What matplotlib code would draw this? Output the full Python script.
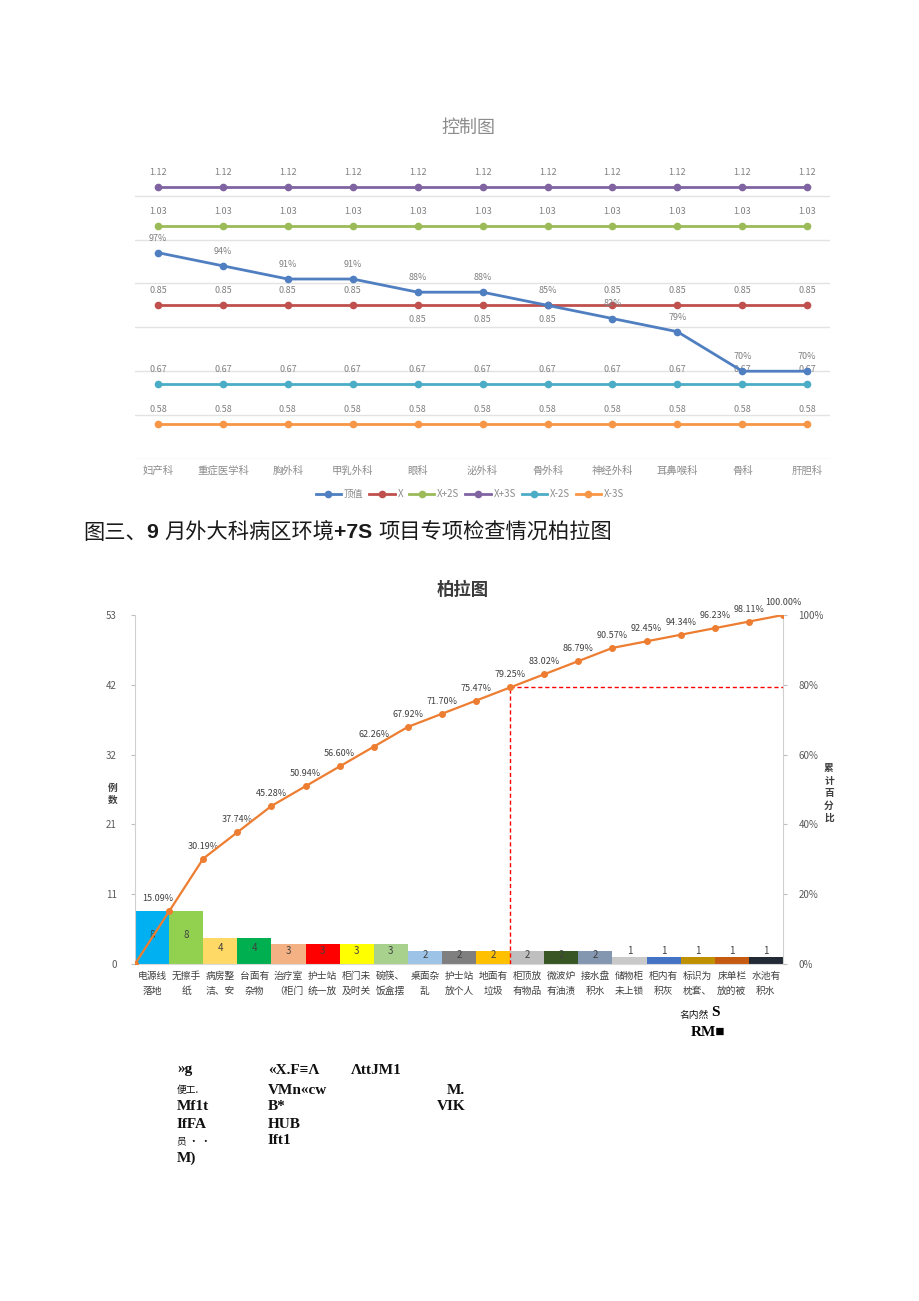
import numpy as np
import matplotlib
matplotlib.use("Agg")
import matplotlib.pyplot as plt
from matplotlib.ticker import FuncFormatter

plt.rcParams['font.family'] = ['Noto Sans CJK SC', 'DejaVu Sans']

# ---- 控制图 数据 ----
depts = ['妇产科', '重症医学科', '胸外科', '甲乳外科', '眼科', '泌外科',
         '骨外科', '神经外科', '耳鼻喉科', '骨科', '肝胆科']
actual = [0.97, 0.94, 0.91, 0.91, 0.88, 0.88, 0.85, 0.82, 0.79, 0.70, 0.70]
x_mean = 0.85
x_p2s = 1.03
x_p3s = 1.12
x_m2s = 0.67
x_m3s = 0.58

# ---- 柏拉图 数据 ----
items = ['电源线\n落地', '无擦手\n纸', '病房整\n洁、安', '台面有\n杂物', '治疗室\n（柜门',
         '护士站\n统一放', '柜门未\n及时关', '碗筷、\n饭盒摆', '桌面杂\n乱', '护士站\n放个人',
         '地面有\n垃圾', '柜顶放\n有物品', '微波炉\n有油渍', '接水盘\n积水', '储物柜\n未上锁',
         '柜内有\n积灰', '标识为\n枕套、', '床单栏\n放的被', '水池有\n积水']
counts = [8, 8, 4, 4, 3, 3, 3, 3, 2, 2, 2, 2, 2, 2, 1, 1, 1, 1, 1]
bar_colors = ['#00B0F0', '#92D050', '#FFD966', '#00B050', '#F4B183', '#FF0000', '#FFFF00',
              '#A9D18E', '#9DC3E6', '#7F7F7F', '#FFC000', '#BFBFBF', '#375623', '#8497B0',
              '#C9C9C9', '#4472C4', '#BF9000', '#C55A11', '#222A35']
cut_idx = 11

fig = plt.figure(figsize=(9.2, 13.01), dpi=100)
W, H = 920, 1301


def fx(px):
    return px / W


def fy(py):
    return 1 - py / H


# ================= 控制图 =================
ax1 = fig.add_axes([fx(135), fy(459), fx(695), 298.5 / H])
xs = np.arange(len(depts))
series = [
    ('顶值', actual, '#4F7FC0'),
    ('X', [x_mean] * len(depts), '#C0504D'),
    ('X+2S', [x_p2s] * len(depts), '#9BBB59'),
    ('X+3S', [x_p3s] * len(depts), '#8064A2'),
    ('X-2S', [x_m2s] * len(depts), '#4BACC6'),
    ('X-3S', [x_m3s] * len(depts), '#F79646'),
]
for k, (name, vals, col) in enumerate(series):
    z = 5 if k == 0 else 3
    ax1.plot(xs, vals, color=col, lw=2, marker='o', ms=4.5, label=name, zorder=z)

lab_c = '#808080'
for i, v in enumerate(actual):
    ax1.annotate(f'{round(v * 100)}%', (i, v), xytext=(0, 10.5), textcoords='offset points',
                 ha='center', va='center', fontsize=6.5, color=lab_c, zorder=6)
for vals, below in [([x_p3s] * 11, []), ([x_p2s] * 11, []), ([x_mean] * 11, [4, 5, 6]),
                    ([x_m2s] * 11, []), ([x_m3s] * 11, [])]:
    for i, v in enumerate(vals):
        off = -10 if i in below else 10.5
        ax1.annotate(f'{v:.2f}', (i, v), xytext=(0, off), textcoords='offset points',
                     ha='center', va='center', fontsize=6.5, color=lab_c, zorder=4)

ax1.set_xlim(-0.354, 10.35)
ax1.set_ylim(0.5, 1.18)
ax1.set_yticks(np.arange(0.5, 1.15, 0.1))
ax1.yaxis.grid(True, color='#E3E3E3', lw=1)
ax1.set_axisbelow(True)
ax1.tick_params(axis='y', length=0, labelleft=False)
ax1.set_xticks(xs)
ax1.set_xticklabels(depts, fontsize=7.5, color='#8C8C8C')
ax1.tick_params(axis='x', length=0, pad=5)
for s in ax1.spines.values():
    s.set_visible(False)
ax1.legend(loc='center', bbox_to_anchor=((470 - 135) / 695, -0.118), ncol=6, frameon=False,
           fontsize=7, handlelength=2.6, columnspacing=0.6, handletextpad=0.3,
           labelcolor='#8C8C8C')
fig.text(fx(468), fy(128), '控制图', ha='center', va='center', fontsize=13, color='#8C8C8C')

# ================= 标题文字 =================
renderer = fig.canvas.get_renderer()
pieces = [('图三、', 'normal', ['Noto Sans CJK SC']),
          ('9 ', 'bold', ['Liberation Sans']),
          ('月外大科病区环境', 'normal', ['Noto Sans CJK SC']),
          ('+7S ', 'bold', ['Liberation Sans']),
          ('项目专项检查情况柏拉图', 'normal', ['Noto Sans CJK SC'])]
cx = fx(83)
for txt, wt, fam in pieces:
    t = fig.text(cx, fy(533), txt, fontsize=15.3, weight=wt, family=fam + ['DejaVu Sans'],
                 ha='left', va='center', color='#1A1A1A')
    bb = t.get_window_extent(renderer)
    cx += bb.width / W

# ================= 柏拉图 =================
ax2 = fig.add_axes([fx(135), fy(964), fx(648), 349 / H])
pos = np.arange(len(counts)) + 0.5
total = sum(counts)
ax2.bar(pos, counts, width=1.0, color=bar_colors, zorder=2)
for p, v in zip(pos, counts):
    ly = v / 2 + 0.4 if v > 1 else 2.0
    ax2.text(p, ly, str(v), ha='center', va='center', fontsize=7, color='#404040', zorder=3)
ax2.set_xlim(0, len(counts))
ax2.set_ylim(0, total)
lt = [total * k / 5 for k in range(6)]
ax2.set_yticks(lt)
ax2.set_yticklabels([str(round(t)) for t in lt], fontsize=7, color='#595959')
ax2.set_xticks(pos)
ax2.set_xticklabels(items, fontsize=7, color='#404040', linespacing=1.65)
ax2.tick_params(axis='x', length=0, pad=5)
ax2.tick_params(axis='y', length=3, color='#BFBFBF', pad=10)
ax2.spines['top'].set_visible(False)
ax2.spines['right'].set_visible(False)
ax2.spines['left'].set_color('#D0D0D0')
ax2.spines['bottom'].set_color('#D9D9D9')

ax3 = ax2.twinx()
cum = np.cumsum(counts) / total
cx_pts = np.arange(len(counts) + 1)
cy_pts = np.concatenate([[0], cum])
ax3.plot(cx_pts, cy_pts, color='#ED7D31', lw=1.6, marker='o', ms=4, zorder=5)
for i, v in enumerate(cum):
    dx = -8 if i == 0 else 0
    ax3.annotate(f'{v * 100:.2f}%', (i + 1, v), xytext=(dx, 9), textcoords='offset points',
                 ha='center', va='center', fontsize=6.5, color='#404040')
ax3.plot([cut_idx, cut_idx], [0, cum[cut_idx - 1]], color='#FF0000', lw=1, ls=(0, (3, 2)), zorder=4)
ax3.plot([cut_idx, len(counts)], [cum[cut_idx - 1]] * 2, color='#FF0000', lw=1, ls=(0, (3, 2)), zorder=4)
ax3.set_ylim(0, 1)
ax3.set_yticks(np.linspace(0, 1, 6))
ax3.yaxis.set_major_formatter(FuncFormatter(lambda v, p: f'{v * 100:.0f}%'))
ax3.tick_params(axis='y', labelsize=7, labelcolor='#595959', length=3, color='#BFBFBF', pad=8)
ax3.spines['top'].set_visible(False)
ax3.spines['left'].set_visible(False)
ax3.spines['bottom'].set_visible(False)
ax3.spines['right'].set_color('#D0D0D0')

fig.text(fx(463), fy(590), '柏拉图', ha='center', va='center', fontsize=12.5, weight='bold',
         color='#3A3A3A')
fig.text(fx(113), fy(794), '例\n数', ha='center', va='center', fontsize=7, weight='bold',
         color='#404040', linespacing=1.3)
fig.text(fx(829), fy(793), '累\n计\n百\n分\n比', ha='center', va='center', fontsize=7,
         weight='bold', color='#404040', linespacing=1.3)

# ================= 下方杂乱文字 =================
serif = ['Liberation Serif', 'DejaVu Serif', 'DejaVu Sans', 'Noto Sans CJK SC']
cjk = ['Noto Sans CJK SC', 'DejaVu Sans']
fig.text(fx(679), fy(1015), '名内然', fontsize=7, family=cjk, va='center', color='#111111')
fig.text(fx(711), fy(1013), 'S', fontsize=11, family=serif, weight='bold', va='center')
fig.text(fx(691), fy(1033), 'RM■', fontsize=11, family=serif, weight='bold', va='center')

junk = [
    (177, 1070, '»g', serif, 11),
    (268, 1070, '«X.F≡Λ', serif, 11),
    (351, 1070, 'ΛttJM1', serif, 11),
    (177, 1090, '便工.', cjk, 7),
    (268, 1090, 'VMn«cw', serif, 11),
    (447, 1090, 'M.', serif, 11),
    (177, 1107, 'Mf1t', serif, 11),
    (268, 1107, 'B*', serif, 11),
    (437, 1107, 'VIK', serif, 11),
    (177, 1125, 'IfFA', serif, 11),
    (268, 1125, 'HUB', serif, 11),
    (177, 1141, '员 · ·', cjk, 7),
    (268, 1141, 'Ift1', serif, 11),
    (177, 1158, 'M)', serif, 11),
]
for px, py, s, fam, fs in junk:
    fig.text(fx(px), fy(py), s, fontsize=fs, family=fam, weight='bold' if fs > 8 else 'normal',
             va='center', ha='left', color='#111111')

fig.savefig('out.png', dpi=100, facecolor='white')
